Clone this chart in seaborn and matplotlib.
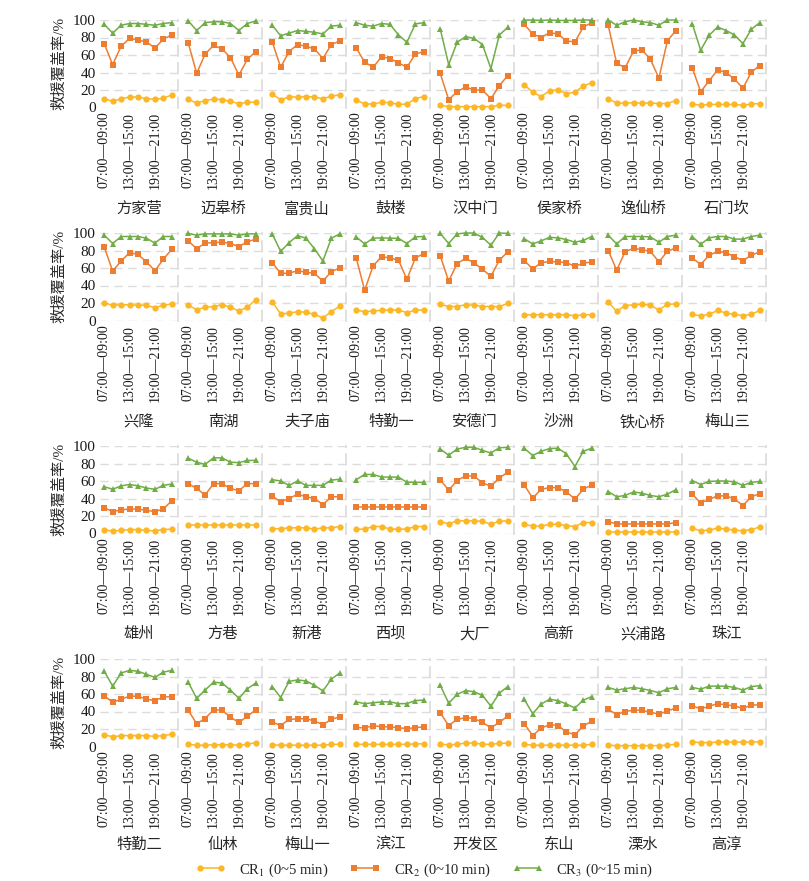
import numpy as np
import pandas as pd
import seaborn as sns
import matplotlib.pyplot as plt

# 时段 (只显示每隔三个的标签)
periods = ["07:00—09:00", "09:00—11:00", "11:00—13:00", "13:00—15:00", "15:00—17:00",
           "17:00—19:00", "19:00—21:00", "21:00—23:00", "23:00—01:00"]

stations = ["方家营", "迈皋桥", "富贵山", "鼓楼", "汉中门", "侯家桥", "逸仙桥", "石门坎",
            "兴隆", "南湖", "夫子庙", "特勤一", "安德门", "沙洲", "铁心桥", "梅山三",
            "雄州", "方巷", "新港", "西坝", "大厂", "高新", "兴浦路", "珠江",
            "特勤二", "仙林", "梅山一", "滨江", "开发区", "东山", "溧水", "高淳"]

cr1 = [
    [10, 7, 10, 12, 12, 10, 9.5, 10.5, 14.5],
    [9.5, 5, 8, 9.5, 9, 7, 4.5, 6, 6],
    [15, 9, 12, 12, 12.5, 12, 10, 13, 14.5],
    [8.5, 4, 4, 6, 5.5, 3.5, 4, 10, 12.5],
    [2.5, 1, 1, 1, 1, 1, 1, 2.5, 2.5],
    [26, 17.5, 12.5, 19, 20, 16, 17.5, 24.5, 28.5],
    [10, 5, 5, 5.5, 5, 5, 4.5, 4.5, 8],
    [4, 2.5, 3.5, 3.5, 3.5, 3.5, 2.5, 4, 4.5],
    [20, 17.5, 18, 18, 17.5, 17.5, 14.5, 17.5, 19],
    [17.5, 12.5, 15, 16, 18, 15, 11, 15, 24],
    [21.5, 7.5, 8.5, 10, 9.5, 7, 3, 10, 16.5],
    [12, 10, 11, 11.5, 12, 12, 9, 12, 12],
    [18.5, 16, 16, 18, 17.5, 16, 16, 16, 19.5],
    [6.5, 6.5, 6.5, 6.5, 6.5, 6.5, 5.5, 6.5, 6.5],
    [21, 10.5, 17, 18, 18.5, 17.5, 12, 18.5, 19],
    [7, 5.5, 7, 11.5, 8.5, 7, 5.5, 7, 11.5],
    [4, 3, 3.5, 4.5, 4.5, 3.5, 3, 4.5, 5],
    [9.5, 9.5, 9.5, 9.5, 9.5, 9.5, 9.5, 9.5, 9.5],
    [5.5, 5.5, 6.5, 6.5, 6.5, 5, 6.5, 6.5, 8],
    [5, 5, 8, 8, 5, 5, 5, 8, 8],
    [13.5, 11, 14.5, 14.5, 14.5, 14, 10.5, 14, 14.5],
    [10.5, 8.5, 8.5, 10.5, 10.5, 9, 8, 12.5, 12.5],
    [1.2, 1.2, 1.2, 1.2, 1.2, 1.2, 1.2, 1.2, 1.2],
    [6, 3, 4, 6, 5, 4, 3, 4.5, 7.5],
    [13.5, 11, 12.5, 12.5, 12.5, 12.5, 11.5, 12.5, 14],
    [2.5, 1.5, 1.5, 2, 2, 2, 1.5, 2.5, 4.5],
    [2, 1.5, 1.5, 1.5, 1.5, 1.5, 1.5, 2.5, 2.5],
    [2.5, 2.5, 2.5, 2.5, 2.5, 2.5, 2.5, 3, 3],
    [2.5, 2, 2.5, 4, 4, 2.5, 2.5, 3.5, 4],
    [2.5, 1.5, 1.5, 1.5, 1.5, 1.5, 1.5, 1.5, 2.5],
    [1.5, 1, 1, 1, 1, 1, 1, 1.5, 2.5],
    [5, 4.5, 4.5, 5, 5, 5, 5, 5, 5.5],
]

cr2 = [
    [73, 49, 70, 79, 77, 75, 68, 78, 83],
    [74, 39, 61, 71, 67, 57, 37, 55, 64],
    [75, 46, 64, 72, 70, 67, 56, 72, 76],
    [68, 52, 46, 58, 56, 51, 46, 61, 64],
    [39, 9, 18, 23.5, 20, 20, 10, 25, 36.5],
    [95, 84, 80, 85.5, 84, 76, 75, 92, 97],
    [94, 50.5, 45.5, 64.5, 66, 55, 33.5, 76, 88],
    [45.5, 18, 30.5, 43, 40, 32.5, 22, 40.5, 48],
    [84, 56.5, 68, 77.5, 75.5, 67, 57, 70, 81.5],
    [91, 82, 88.5, 89, 89.5, 88, 84.5, 90, 93],
    [66, 54, 54, 57, 55, 54, 45, 56, 60],
    [71.5, 34.5, 62.5, 73, 71.5, 69, 47, 71.5, 76.5],
    [74, 45, 65, 71, 66, 58.5, 50.5, 69, 78.5],
    [68.5, 59, 66, 67.5, 67, 66, 62, 65.5, 67],
    [80, 57.5, 78.5, 82.5, 81, 79, 67, 79, 83],
    [71.5, 64, 74.5, 79, 77.5, 73, 68.5, 74.5, 78.5],
    [29.5, 25, 27, 28, 28, 26.5, 25, 28, 37.5],
    [57, 51.5, 44, 57, 57, 51.5, 49, 57, 57],
    [43, 36, 40, 45, 42, 40, 33, 42, 42],
    [30, 30, 30, 30, 30, 30, 30, 30, 30],
    [61.5, 49.5, 60.5, 66, 65.5, 58, 54, 63.5, 70],
    [55.5, 40.5, 50.5, 52.5, 52.5, 47.5, 39.5, 50.5, 55.5],
    [13.5, 11, 11, 11, 11, 11, 11, 11, 12.5],
    [45, 35, 39, 43, 43, 39.5, 32, 42, 45.5],
    [58, 50.5, 54, 57.5, 57.5, 54, 52.5, 56.5, 57],
    [41.5, 26, 32, 42, 41.5, 33.5, 27.5, 34.5, 42],
    [28, 24, 31, 31.5, 32, 29, 25, 31, 34],
    [22, 21, 24, 22.5, 22.5, 21.5, 20.5, 21.5, 22.5],
    [38.5, 24, 31, 33, 32, 27.5, 21.5, 27.5, 35],
    [26, 12.5, 21, 25, 24, 16.5, 13.5, 23.5, 29],
    [42.5, 36.5, 40, 41.5, 41.5, 39, 37, 40.5, 44],
    [46.5, 43, 46, 49, 47.5, 46.5, 43.5, 47.5, 47.5],
]

cr3 = [
    [95, 85, 94, 96, 96, 95, 94, 96, 97],
    [99, 88, 97, 98, 98, 96, 88, 96, 99],
    [94, 82, 85, 88, 87, 86, 84, 93, 94],
    [97, 94, 93, 96, 95, 83, 74.5, 95.5, 97],
    [90, 49, 74.5, 81, 79, 72, 44.5, 83, 91.5],
    [100, 100, 99.5, 100, 99.5, 99.5, 99.5, 100, 100],
    [100, 94, 98, 100, 98, 97, 94, 100, 100],
    [96, 65.5, 82.5, 92, 88, 83, 73, 89.5, 97],
    [97.5, 88, 96, 96, 96, 94, 88.5, 96, 96],
    [99.5, 97.5, 99, 99, 99, 99, 97.5, 99, 99],
    [99, 79, 89, 97, 94, 82, 68, 94, 99],
    [95.5, 87.5, 94, 94.5, 94, 94, 88, 95.5, 96],
    [99.5, 88, 99, 100, 100, 95, 86, 100, 99.5],
    [93.5, 87.5, 91, 95, 94.5, 92.5, 89.5, 91.5, 96],
    [97.5, 87.5, 96, 96, 96, 95.5, 89.5, 96, 97.5],
    [96, 87, 94.5, 96, 96, 93, 93, 96, 97.5],
    [53.5, 50.5, 54.5, 56, 54.5, 52, 50.5, 55, 56.5],
    [86, 81.5, 79, 86.5, 86.5, 81.5, 81, 83.5, 83.5],
    [61.5, 60, 55, 60, 55, 55, 55, 61, 62],
    [61.5, 67.5, 67.5, 64.5, 64.5, 64.5, 58.5, 58.5, 58.5],
    [96.5, 89.5, 96.5, 98.5, 98.5, 95, 92, 98, 98.5],
    [97.5, 89, 94, 97, 97.5, 91, 76.5, 94, 97.5],
    [48, 42, 43.5, 47.5, 46, 43.5, 42, 45, 50],
    [60.5, 56, 59.5, 60, 60, 59, 55, 58.5, 59.5],
    [86, 69, 84, 87, 86, 82.5, 79, 85, 87],
    [73.5, 55, 64.5, 73.5, 72.5, 64.5, 55, 66, 72.5],
    [68.5, 56, 74.5, 76, 75, 70, 63.5, 77, 84],
    [51, 49, 50, 51, 51, 49, 49, 52.5, 53],
    [70, 49.5, 59.5, 64, 62.5, 58.5, 46, 61, 68.5],
    [54, 37.5, 48.5, 54, 52.5, 48.5, 44, 53, 57],
    [67.5, 64.5, 66, 67.5, 66, 64, 61.5, 66, 67.5],
    [67.5, 65.5, 69, 69, 69, 67.5, 64.5, 68.5, 69.5],
]

series_names = ["CR$_1$ (0~5 min)", "CR$_2$ (0~10 min)", "CR$_3$ (0~15 min)"]
colors = ["#FBB726", "#ED7D31", "#70AD47"]

# long table for seaborn
rows = []
for s, name in enumerate(stations):
    for lab, vals in zip(series_names, [cr1, cr2, cr3]):
        for k, v in enumerate(vals[s]):
            rows.append({"station": name, "idx": k, "series": lab, "value": v})
df = pd.DataFrame(rows)

sns.set_theme(style="white")
plt.rcParams['font.family'] = ['Liberation Serif', 'Noto Sans CJK SC']
plt.rcParams['mathtext.fontset'] = 'stix'
plt.rcParams['axes.unicode_minus'] = False

W, H = 809, 881
fig = plt.figure(figsize=(W / 100, H / 100), dpi=100)

row_top = [20, 233, 446, 659]
row_h = 87.5
name_y = [209, 422, 634, 845]
col_w = 77.7

for i, name in enumerate(stations):
    r, c = divmod(i, 8)
    left = 100 + 84 * c
    ax = fig.add_axes([left / W, 1 - (row_top[r] + row_h) / H, col_w / W, row_h / H])
    sub = df[df["station"] == name]
    sns.lineplot(data=sub, x="idx", y="value", hue="series", style="series",
                 hue_order=series_names, style_order=series_names,
                 markers=["o", "s", "^"], dashes=False, palette=colors,
                 markersize=4.5, linewidth=1.1, markeredgewidth=0,
                 clip_on=False, legend=False, ax=ax)
    ax.set_xlim(-0.5, 8.7)
    ax.set_ylim(0, 100)
    ax.set_yticks(range(0, 101, 20))
    ax.grid(axis="y", color="#DCDCDC", linestyle=(0, (6, 4)), linewidth=1)
    ax.set_axisbelow(True)
    for sp in ["top", "left", "bottom"]:
        ax.spines[sp].set_visible(False)
    ax.spines["right"].set_color("#DCDCDC")
    ax.spines["right"].set_linestyle((0, (6, 4)))
    ax.set_xticks([0, 3, 6])
    ax.set_xticklabels([periods[0], periods[3], periods[6]], rotation=90, fontsize=10)
    ax.tick_params(length=0, pad=3, colors="#1a1a1a")
    ax.set_xlabel("")
    ax.set_ylabel("")
    if c == 0:
        ax.set_yticklabels([str(t) for t in range(0, 101, 20)], fontsize=11)
        fig.text(59 / W, 1 - (row_top[r] + row_h / 2) / H, "救援覆盖率/%",
                 rotation=90, ha="center", va="center", fontsize=11)
    else:
        ax.set_yticklabels([])
    fig.text((left + col_w / 2) / W, 1 - name_y[r] / H, name,
             ha="center", va="center", fontsize=11)
    if i == 0:
        handles = ax.get_lines()[:3]

fig.legend(handles, series_names, loc="center", bbox_to_anchor=(0.524, 1 - 870 / H),
           ncol=3, frameon=False, fontsize=10.5, numpoints=2, handlelength=2.1,
           columnspacing=1.5, handletextpad=0.9)

fig.savefig("out.png", dpi=100)
